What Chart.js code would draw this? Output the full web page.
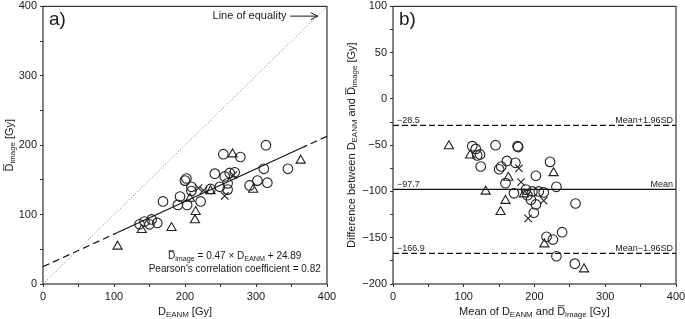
<!DOCTYPE html>
<html>
<head>
<meta charset="utf-8">
<script src="https://cdn.jsdelivr.net/npm/chart.js@4"></script>
<style>
  body { margin: 0; background: #fff; }
  #wrap { position: relative; width: 685px; height: 319px; }
  canvas { position: absolute; top: 0; }
</style>
</head>
<body>
<div id="wrap">
  <canvas id="ca" width="340" height="319" style="left:0"></canvas>
  <canvas id="cb" width="345" height="319" style="left:340px"></canvas>
</div>
<script>
// panel a) D_EANM vs mean D_image
const circA_eanm  = [136, 143, 150, 153, 161, 169, 190, 193, 200, 202, 203, 209, 209, 222, 236, 242, 249, 256, 260, 260, 263, 270, 254, 278, 291, 302, 311, 314, 316, 345];
const circA_image = [86, 90, 86, 93, 88, 119, 114, 126, 149, 152, 114, 140, 134, 119, 137, 159, 140, 155, 145, 136, 160, 161, 187, 183, 142, 149, 166, 200, 146, 166];
const triA_eanm   = [105, 139, 181, 207, 214, 215, 236, 267, 296, 363];
const triA_image  = [54, 78, 81, 123, 92, 104, 134, 187, 136, 178];
const crossA_eanm  = [219, 226, 256, 268];
const crossA_image = [138, 135, 127, 157];

// regression printed on the chart
const regSlope = 0.47;
const regIntercept = 24.89;
const regRange = [105, 363];
const pearson = 0.82;

// panel b) Bland-Altman
const circB_mean = [112, 117, 119, 123, 124, 145, 150, 153, 159, 161, 171, 173, 176, 177, 188, 190, 195, 197, 199, 202, 202, 206, 213, 222, 231, 258, 239, 217, 226, 231, 257];
const circB_diff = [-51, -54, -61, -60, -73, -50, -76, -73, -91, -67, -102, -69, -51, -52, -98, -104, -109, -100, -123, -83, -114, -100, -101, -68, -95, -113, -144, -149, -152, -170, -178];
const triB_mean  = [79, 109, 131, 152, 159, 163, 185, 227, 214, 270];
const triB_diff  = [-51, -61, -100, -122, -110, -85, -103, -80, -157, -184];
const crossB_mean = [178, 181, 213, 191];
const crossB_diff = [-75, -90, -110, -129];

const limitValues = [-28.5, -97.7, -166.9];
const limitNames  = ['Mean+1.96SD', 'Mean', 'Mean\u22121.96SD'];

const FONT = '"Liberation Sans", Arial, Helvetica, sans-serif';
const INK = '#1a1a1a';

function pts(xs, ys) {
  return xs.map((x, i) => ({ x: x, y: ys[i] }));
}

function markers(xs, ys, style, r) {
  return {
    data: pts(xs, ys),
    pointStyle: style,
    pointRadius: r,
    pointBorderColor: '#222',
    pointBackgroundColor: 'rgba(0,0,0,0)',
    pointBorderWidth: 1.1,
    showLine: false
  };
}

function line(data, color, width, dash) {
  return {
    data: data,
    showLine: true,
    borderColor: color,
    borderWidth: width,
    borderDash: dash,
    pointRadius: 0,
    fill: false
  };
}

function fmt(v) {
  return String(v).replace('-', '\u2212');
}

function axis(min, max, step, major, fit) {
  return {
    type: 'linear', min: min, max: max,
    ticks: {
      stepSize: step, autoSkip: false, maxRotation: 0, padding: 3,
      color: INK, font: { family: FONT, size: 11 },
      callback: v => (v % major === 0 ? fmt(v) : '')
    },
    grid: { drawOnChartArea: false, drawTicks: true, tickLength: 3, tickColor: '#333', tickWidth: 1 },
    border: { display: false },
    afterFit: fit
  };
}

// text with subscripts / overlined letters
function drawRich(ctx, parts, cx, cy, size, rotate) {
  const subSize = size * 0.72;
  ctx.save();
  ctx.translate(cx, cy);
  if (rotate) ctx.rotate(-Math.PI / 2);
  ctx.fillStyle = INK;
  ctx.strokeStyle = INK;
  ctx.textBaseline = 'alphabetic';
  ctx.textAlign = 'left';
  const widths = parts.map(p => {
    ctx.font = (p.sub ? subSize : size) + 'px ' + FONT;
    return ctx.measureText(p.t).width;
  });
  const total = widths.reduce((a, b) => a + b, 0);
  let x = -total / 2;
  const base = size * 0.36;
  parts.forEach((p, i) => {
    ctx.font = (p.sub ? subSize : size) + 'px ' + FONT;
    ctx.fillText(p.t, x, p.sub ? base + size * 0.22 : base);
    if (p.over) {
      ctx.lineWidth = 0.8;
      ctx.beginPath();
      ctx.moveTo(x + 0.5, base - size * 0.84);
      ctx.lineTo(x + widths[i] - 0.5, base - size * 0.84);
      ctx.stroke();
    }
    x += widths[i];
  });
  ctx.restore();
}

const D_IMAGE = [{ t: 'D', over: true }, { t: 'image', sub: true }];
const D_EANM = [{ t: 'D' }, { t: 'EANM', sub: true }];

function frameBox(ctx, a) {
  ctx.save();
  ctx.strokeStyle = '#333';
  ctx.lineWidth = 1.2;
  ctx.strokeRect(a.left, a.top, a.right - a.left, a.bottom - a.top);
  ctx.restore();
}

function panelLabel(ctx, a, txt) {
  ctx.save();
  ctx.fillStyle = INK;
  ctx.font = '19px ' + FONT;
  ctx.textBaseline = 'alphabetic';
  ctx.fillText(txt, a.left + 6, a.top + 19);
  ctx.restore();
}

const decorA = {
  id: 'decorA',
  afterDraw(chart) {
    const ctx = chart.ctx, a = chart.chartArea;
    const sx = chart.scales.x, sy = chart.scales.y;
    frameBox(ctx, a);
    panelLabel(ctx, a, 'a)');
    drawRich(ctx, D_IMAGE.concat([{ t: ' [Gy]' }]), 9, (a.top + a.bottom) / 2, 11, true);
    drawRich(ctx, D_EANM.concat([{ t: ' [Gy]' }]), (a.left + a.right) / 2, 311, 11, false);

    // line of equality note
    ctx.save();
    ctx.fillStyle = INK;
    ctx.strokeStyle = INK;
    ctx.font = '11px ' + FONT;
    ctx.textAlign = 'right';
    ctx.textBaseline = 'middle';
    const ty = sy.getPixelForValue(386);
    ctx.fillText('Line of equality', sx.getPixelForValue(343), ty);
    const x0 = sx.getPixelForValue(348), x1 = sx.getPixelForValue(387);
    ctx.lineWidth = 1;
    ctx.beginPath();
    ctx.moveTo(x0, ty); ctx.lineTo(x1, ty);
    ctx.moveTo(x1 - 7, ty - 3.5); ctx.lineTo(x1, ty); ctx.lineTo(x1 - 7, ty + 3.5);
    ctx.stroke();
    ctx.restore();

    // regression equation
    const cx = sx.getPixelForValue(270);
    drawRich(ctx, D_IMAGE.concat([
      { t: ' = ' + regSlope + ' \u00d7 ' }, { t: 'D' }, { t: 'EANM', sub: true },
      { t: ' + ' + regIntercept }
    ]), cx, sy.getPixelForValue(41), 10, false);
    ctx.save();
    ctx.fillStyle = INK;
    ctx.font = '10px ' + FONT;
    ctx.textAlign = 'center';
    ctx.textBaseline = 'middle';
    ctx.fillText("Pearson's correlation coefficient = " + pearson, cx, sy.getPixelForValue(21));
    ctx.restore();
  }
};

const decorB = {
  id: 'decorB',
  afterDraw(chart) {
    const ctx = chart.ctx, a = chart.chartArea;
    const sy = chart.scales.y;
    frameBox(ctx, a);
    panelLabel(ctx, a, 'b)');
    drawRich(ctx, [{ t: 'Difference between ' }].concat(D_EANM, [{ t: ' and ' }], D_IMAGE, [{ t: ' [Gy]' }]),
      11, (a.top + a.bottom) / 2, 11, true);
    drawRich(ctx, [{ t: 'Mean of ' }].concat(D_EANM, [{ t: ' and ' }], D_IMAGE, [{ t: ' [Gy]' }]),
      (a.left + a.right) / 2, 311, 11, false);

    ctx.save();
    ctx.fillStyle = INK;
    ctx.font = '9px ' + FONT;
    ctx.textBaseline = 'alphabetic';
    limitValues.forEach((v, i) => {
      const y = sy.getPixelForValue(v) - 2.5;
      ctx.textAlign = 'left';
      ctx.fillText(fmt(v), a.left + 4, y);
      ctx.textAlign = 'right';
      ctx.fillText(limitNames[i], a.right - 3, y);
    });
    ctx.restore();
  }
};

Chart.defaults.font.family = FONT;
Chart.defaults.animation = false;

new Chart(document.getElementById('ca'), {
  type: 'scatter',
  data: {
    datasets: [
      line([{ x: 0, y: 0 }, { x: 400, y: 400 }], '#777', 1, [1, 2]),
      line([{ x: 0, y: regIntercept }, { x: regRange[0], y: regSlope * regRange[0] + regIntercept }], '#111', 1.2, [7, 4]),
      line([{ x: regRange[0], y: regSlope * regRange[0] + regIntercept }, { x: regRange[1], y: regSlope * regRange[1] + regIntercept }], '#111', 1.2, []),
      line([{ x: regRange[1], y: regSlope * regRange[1] + regIntercept }, { x: 400, y: regSlope * 400 + regIntercept }], '#111', 1.2, [7, 4]),
      markers(circA_eanm, circA_image, 'circle', 4.8),
      markers(triA_eanm, triA_image, 'triangle', 5.3),
      markers(crossA_eanm, crossA_image, 'crossRot', 5.3)
    ]
  },
  options: {
    responsive: false,
    devicePixelRatio: 1,
    layout: { padding: { top: 4, right: 13, left: 0, bottom: 0 } },
    plugins: { legend: { display: false }, tooltip: { enabled: false } },
    scales: {
      x: axis(0, 400, 50, 100, s => { s.height = 35; s.paddingLeft = 0; s.paddingRight = 0; }),
      y: axis(0, 400, 50, 100, s => { s.width = 43; s.paddingTop = 0; s.paddingBottom = 0; })
    }
  },
  plugins: [decorA]
});

new Chart(document.getElementById('cb'), {
  type: 'scatter',
  data: {
    datasets: [
      line([{ x: 0, y: limitValues[0] }, { x: 400, y: limitValues[0] }], '#111', 1.2, [6, 3]),
      line([{ x: 0, y: limitValues[1] }, { x: 400, y: limitValues[1] }], '#111', 1.2, []),
      line([{ x: 0, y: limitValues[2] }, { x: 400, y: limitValues[2] }], '#111', 1.2, [6, 3]),
      markers(circB_mean, circB_diff, 'circle', 4.8),
      markers(triB_mean, triB_diff, 'triangle', 5.3),
      markers(crossB_mean, crossB_diff, 'crossRot', 5.3)
    ]
  },
  options: {
    responsive: false,
    devicePixelRatio: 1,
    layout: { padding: { top: 4, right: 9, left: 0, bottom: 0 } },
    plugins: { legend: { display: false }, tooltip: { enabled: false } },
    scales: {
      x: axis(0, 400, 50, 100, s => { s.height = 35; s.paddingLeft = 0; s.paddingRight = 0; }),
      y: axis(-200, 100, 25, 50, s => { s.width = 53; s.paddingTop = 0; s.paddingBottom = 0; })
    }
  },
  plugins: [decorB]
});
</script>
</body>
</html>
